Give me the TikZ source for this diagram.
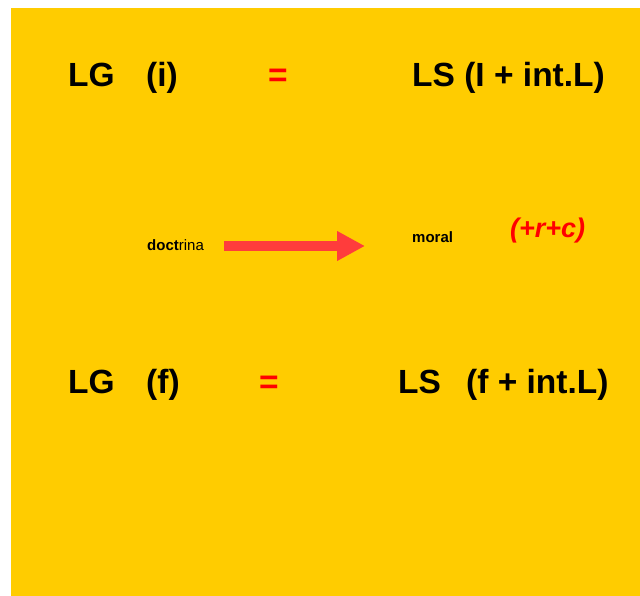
\documentclass[tikz,border=0pt]{standalone}
\usepackage{fontspec}
\setmainfont{Liberation Sans}
\usetikzlibrary{arrows.meta}
\definecolor{bgyellow}{RGB}{255,204,0}
\definecolor{arrowred}{RGB}{255,60,60}
\begin{document}
\begin{tikzpicture}[x=1pt,y=-1pt,
  big/.style={anchor=base west,inner sep=0pt,font=\fontsize{33.5}{40}\selectfont\bfseries},
  bigred/.style={big,text=red},
  small/.style={anchor=base west,inner sep=0pt,font=\fontsize{15}{18}\selectfont},
  rc/.style={anchor=base west,inner sep=0pt,text=red,font=\fontsize{27}{30}\selectfont\bfseries\itshape}]
\useasboundingbox (0,0) rectangle (640,596);
\fill[bgyellow] (11,8) rectangle (640,596);
% top row
\node[big] (lg1) at (68,87) {LG};
\node[big] (i1) at (146,87) {(i)};
\node[bigred] (eq1) at (268,87) {=};
\node[big] (ls1) at (412,87) {LS (I + int.L)};
% middle
\node[small] (doc) at (147,251) {\textbf{doct}rina};
\node[small] (mor) at (412,243) {\textbf{moral}};
\node[rc] (rc) at (510,238) {(+r+c)};
\coordinate (a1) at (224,246);
\coordinate (a2) at (365,246);
\draw[arrowred,line width=10pt,-{Triangle[length=28pt,width=28pt]}] (a1) -- (a2);
% bottom row
\node[big] (lg2) at (68,393) {LG};
\node[big] (f2) at (146,393) {(f)};
\node[bigred] (eq2) at (259,393) {=};
\node[big] (ls2) at (398,393) {LS};
\node[big] (fi2) at (466,393) {(f + int.L)};
\end{tikzpicture}
\end{document}
